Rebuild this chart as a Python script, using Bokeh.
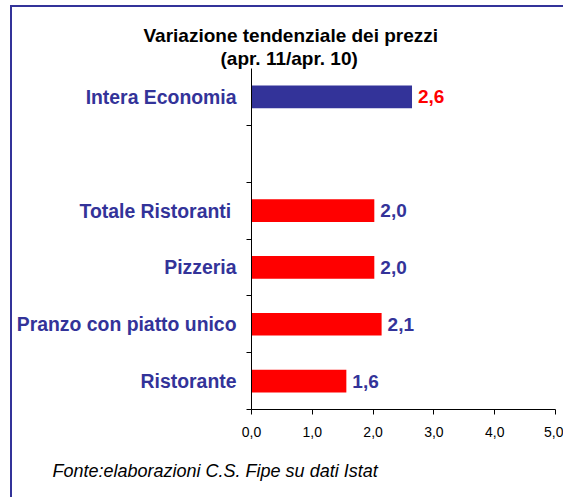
from bokeh.plotting import figure
from bokeh.models import (Range1d, LinearAxis, FixedTicker,
                          CustomJSTickFormatter, Title, ColumnDataSource)
from bokeh.embed import file_html
from bokeh.resources import INLINE
from bokeh.core.properties import value

# ---- data ----
title_lines = ["Variazione tendenziale dei prezzi", "(apr. 11/apr. 10)"]
source_note = "Fonte:elaborazioni C.S. Fipe su dati Istat"
categories = ["Intera Economia", "Totale Ristoranti ", "Pizzeria",
              "Pranzo con piatto unico", "Ristorante"]
values = [2.64, 2.02, 2.02, 2.14, 1.56]
axis_slots = ["Intera Economia", " ", "Totale Ristoranti ", "Pizzeria",
              "Pranzo con piatto unico", "Ristorante"]
x_ticks = [0, 1, 2, 3, 4, 5]

# ---- styles ----
BLUE = "#333399"
RED = "#FF0000"
bar_colors = [BLUE, RED, RED, RED, RED]
label_colors = [RED, BLUE, BLUE, BLUE, BLUE]
FONT = "Liberation Sans"

n_slots = len(axis_slots)
slot_pos = [axis_slots.index(c) + 0.5 for c in categories]   # slot centre (0 = top)
labels = [f"{v:.1f}".replace(".", ",") for v in values]
src = ColumnDataSource(dict(y=slot_pos, val=values, lab=labels,
                            bc=bar_colors, lc=label_colors))

p = figure(width=553, height=492,
           y_range=Range1d(n_slots, 0),
           x_range=Range1d(0, 5),
           output_backend="svg", toolbar_location=None,
           x_axis_location=None, y_axis_location=None,
           min_border_left=239, min_border_right=10,
           min_border_top=61, min_border_bottom=89)
p.styles = {"margin-left": "10px", "margin-top": "5px",
            "border-left": f"2px solid {BLUE}", "border-top": f"2px solid {BLUE}"}
p.outline_line_color = None
p.xgrid.visible = False
p.ygrid.visible = False
p.background_fill_color = "white"
p.border_fill_color = "white"

p.hbar(y="y", right="val", left=0, height=0.4, fill_color="bc",
       line_color=None, source=src)
p.text(x="val", y="y", text="lab", text_color="lc", x_offset=6,
       text_baseline="middle", text_align="left",
       text_font=value(FONT), text_font_size="19px", text_font_style="bold",
       source=src)

# x axis
xa = LinearAxis(ticker=FixedTicker(ticks=x_ticks),
                formatter=CustomJSTickFormatter(code="return tick.toFixed(1).replace('.', ',');"))
xa.axis_line_color = "black"
xa.major_tick_line_color = "black"
xa.major_tick_in = 0
xa.major_tick_out = 5
xa.minor_tick_line_color = None
xa.major_label_text_font = FONT
xa.major_label_text_font_size = "14px"
xa.major_label_text_color = "black"
xa.major_label_standoff = 12
p.add_layout(xa, "below")

# y axis: tick marks at slot boundaries (no tick at the very top)
ya_ticks = LinearAxis(ticker=FixedTicker(ticks=list(range(1, n_slots + 1))),
                      formatter=CustomJSTickFormatter(code="return '';"))
ya_ticks.axis_line_color = "black"
ya_ticks.major_tick_line_color = "black"
ya_ticks.major_tick_in = 0
ya_ticks.major_tick_out = 5
ya_ticks.minor_tick_line_color = None
ya_ticks.major_label_standoff = 0
p.add_layout(ya_ticks, "left")

# y axis: category labels at slot centres
ya = LinearAxis(ticker=FixedTicker(ticks=[i + 0.5 for i in range(n_slots)]),
                formatter=CustomJSTickFormatter(args=dict(names=axis_slots),
                                                code="return names[Math.floor(tick)];"))
ya.axis_line_color = None
ya.major_tick_line_color = None
ya.minor_tick_line_color = None
ya.major_tick_in = 0
ya.major_tick_out = 0
ya.major_label_standoff = 10
ya.major_label_text_font = FONT
ya.major_label_text_font_size = "19.4px"
ya.major_label_text_font_style = "bold"
ya.major_label_text_color = BLUE
p.add_layout(ya, "left")

# titles and footnote
p.title.text = title_lines[0]
p.title.align = "left"
p.title.offset = -108
p.title.standoff = 0
p.title.text_font = FONT
p.title.text_font_size = "19px"
p.title.text_font_style = "bold"
p.title.text_color = "black"
p.add_layout(Title(text=title_lines[1], align="left", offset=-31, standoff=0,
                   text_font=FONT, text_font_size="19px", text_font_style="bold",
                   text_color="black"), "above")
p.add_layout(Title(text=source_note, align="left", offset=-199, standoff=38,
                   text_font=FONT, text_font_size="18px", text_font_style="italic",
                   text_color="black"), "below")

open("out.html", "w").write(file_html(p, INLINE))
